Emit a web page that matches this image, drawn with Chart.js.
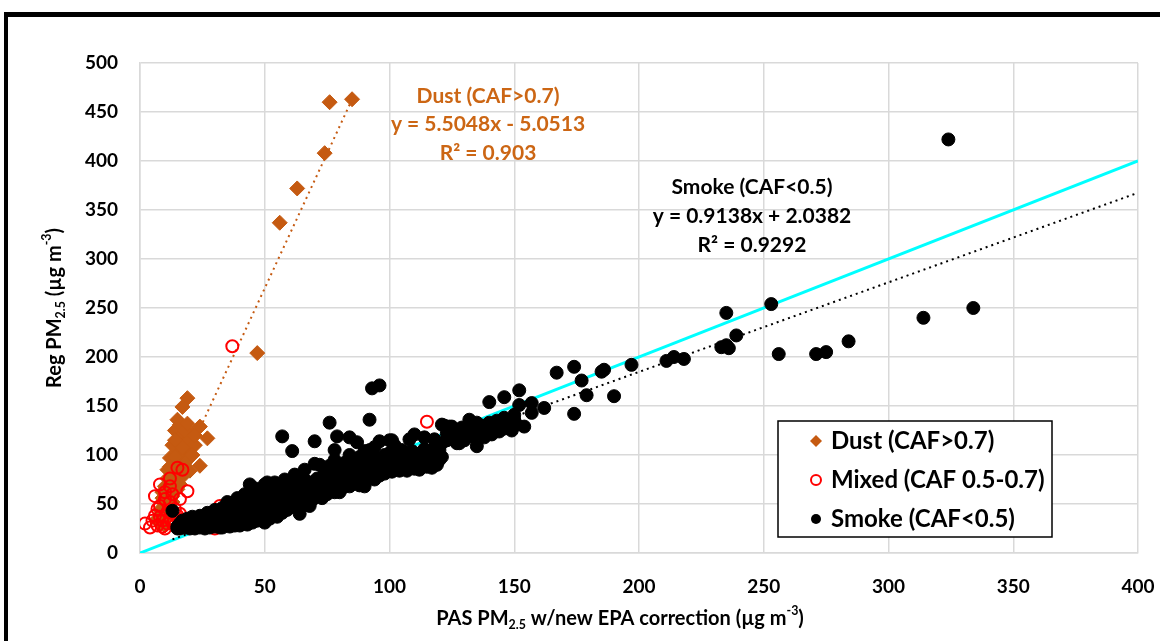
<!DOCTYPE html>
<html>
<head>
<meta charset="utf-8">
<script src="https://cdn.jsdelivr.net/npm/chart.js@4"></script>
<style>
  html, body { margin: 0; padding: 0; background: #fff; }
  #wrap { width: 1160px; height: 641px; position: relative; }
</style>
</head>
<body>
<div id="wrap"><canvas id="myChart" width="1160" height="641"></canvas></div>
<script>
// tick values
const xTicks = [0, 50, 100, 150, 200, 250, 300, 350, 400];
const yTicks = [0, 50, 100, 150, 200, 250, 300, 350, 400, 450, 500];

// Dust (CAF>0.7)
const dustX = [76, 85, 74, 63, 56, 47, 19, 17, 15, 21, 24, 27, 24, 14, 16, 18, 13, 15, 17, 12, 14, 16, 19, 20, 11, 13, 15, 12, 14, 10,
  11, 13, 9, 10, 12, 8, 9, 11, 7, 8, 10, 16, 18, 20, 22, 17, 15, 13, 19, 14, 21, 12, 16, 9, 11, 18, 20, 14, 17, 22];
const dustY = [460, 463, 408, 372, 337, 204, 158, 149, 136, 122, 129, 117, 89, 125, 118, 112, 110, 104, 100, 97, 92, 88, 95, 106, 85, 82, 78, 74, 70, 68,
  62, 58, 56, 50, 46, 44, 40, 36, 35, 30, 28, 131, 125, 115, 110, 78, 65, 52, 132, 98, 100, 88, 70, 62, 76, 92, 84, 115, 108, 120];

// Mixed (CAF 0.5-0.7)
const mixedX = [37, 115, 32, 2, 6, 8, 12, 12, 15, 17, 19, 15, 13, 10, 7, 9, 11, 8, 10, 12, 14, 6, 9, 11, 7, 13, 10, 16, 5, 18, 30, 14, 12, 8, 16, 4, 17];
const mixedY = [211, 134, 48, 30, 58, 70, 76, 68, 87, 85, 63, 38, 30, 25, 28, 33, 42, 48, 55, 35, 45, 38, 27, 30, 45, 60, 62, 40, 33, 30, 25, 28, 52, 37, 55, 26, 34];

// Smoke (CAF<0.5)
const smokeX = [13, 15, 16, 16, 17, 17, 18, 18, 19, 19, 20, 20, 20, 21, 21, 22, 22, 23, 23, 24, 24, 25, 25, 26, 26, 27, 27, 28, 28, 29,
  29, 30, 30, 30, 31, 31, 32, 32, 33, 33, 34, 34, 35, 35, 36, 36, 37, 37, 38, 38, 39, 39, 40, 40, 40, 41, 41, 42, 42, 43,
  43, 44, 44, 45, 45, 45, 44, 46, 46, 47, 47, 48, 48, 49, 49, 50, 50, 50, 51, 51, 52, 52, 53, 53, 54, 54, 55, 55, 55, 56,
  56, 57, 57, 58, 58, 59, 59, 60, 60, 61, 61, 62, 62, 63, 63, 64, 64, 65, 65, 66, 66, 67, 67, 68, 68, 69, 69, 70, 70, 70,
  71, 71, 72, 72, 73, 73, 74, 74, 75, 75, 76, 76, 77, 77, 78, 78, 79, 79, 80, 80, 81, 81, 82, 82, 83, 83, 84, 84, 85, 85,
  86, 86, 87, 87, 88, 88, 89, 89, 90, 90, 91, 91, 92, 92, 93, 93, 94, 94, 95, 95, 96, 96, 97, 97, 98, 98, 99, 99, 100, 100,
  101, 101, 102, 102, 103, 104, 104, 105, 105, 106, 106, 107, 107, 108, 108, 109, 109, 110, 110, 111, 111, 112, 112, 113, 113, 114, 114, 115, 115, 116,
  116, 117, 117, 118, 118, 119, 119, 120, 120, 121, 121,
  57, 61, 70, 76, 78, 79, 84, 87, 92, 92, 93, 96, 96, 100, 101, 110, 121, 124, 122, 125, 127, 123, 123, 128, 132,
  124, 126, 128, 129, 130, 131, 132, 133, 134, 135, 135, 136, 137, 138, 139, 140, 141, 142, 143, 144, 145, 146, 146, 147, 148,
  149, 150, 150, 151, 152, 152, 154, 157, 157, 146, 140, 162, 167, 174, 174, 177, 179, 186, 185, 190, 197, 211, 214, 218, 233,
  235, 236, 235, 239, 253, 256, 271, 275, 284, 314, 324, 334, 15, 22, 28, 19, 26, 33, 38, 24, 30, 36, 42, 47, 52,
  42, 46, 50, 54, 58, 62, 66, 72, 78, 84, 90, 64, 68, 80, 90, 35, 39, 48, 56, 60, 74, 82, 88, 94, 102, 108, 114, 118];
const smokeY = [43, 27, 25, 30, 28, 33, 26, 31, 27, 35, 25, 29, 33, 27, 37, 25, 31, 28, 34, 26, 38, 29, 33, 25, 36, 28, 41, 31, 26, 35,
  39, 27, 31, 44, 29, 36, 26, 40, 33, 46, 28, 37, 31, 42, 27, 48, 34, 39, 29, 44, 32, 50, 28, 36, 41, 46, 31, 38, 52, 29,
  43, 35, 48, 31, 40, 55, 70, 37, 45, 33, 51, 42, 58, 36, 47, 31, 40, 54, 72, 44, 35, 60, 49, 39, 56, 43, 66, 37, 50, 60,
  45, 53, 41, 63, 48, 57, 44, 52, 67, 47, 60, 55, 71, 50, 64, 58, 45, 68, 53, 62, 75, 57, 49, 66, 72, 60, 54, 70, 63, 91,
  58, 76, 67, 61, 73, 56, 65, 79, 70, 60, 75, 89, 66, 82, 72, 62, 77, 68, 85, 73, 66, 79, 76, 70, 88, 81, 73, 68, 84, 77,
  92, 71, 80, 87, 75, 69, 85, 95, 79, 72, 88, 82, 76, 98, 86, 80, 91, 75, 84, 97, 89, 79, 94, 84, 100, 81, 90, 96, 86, 102,
  93, 83, 98, 88, 95, 84, 100, 90, 105, 87, 96, 101, 84, 93, 88, 99, 104, 86, 95, 91, 101, 97, 85, 103, 89, 94, 106, 88, 99, 92,
  104, 97, 87, 108, 93, 100, 90, 95, 105, 98, 112,
  119, 104, 114, 133, 105, 119, 118, 113, 105, 136, 168, 171, 114, 115, 115, 121, 131, 129, 130, 129, 112, 122, 115, 112, 136,
  118, 125, 120, 128, 115, 124, 130, 119, 127, 109, 133, 122, 130, 118, 126, 133, 121, 129, 135, 124, 131, 138, 127, 134, 129,
  125, 136, 141, 131, 151, 166, 129, 143, 153, 159, 154, 148, 184, 142, 190, 176, 161, 187, 185, 160, 192, 196, 200, 198, 210,
  212, 209, 245, 222, 254, 203, 203, 205, 216, 240, 422, 250, 25, 26, 27, 29, 31, 26, 28, 33, 35, 30, 33, 35, 38,
  60, 66, 70, 72, 75, 80, 85, 90, 95, 100, 104, 40, 48, 62, 68, 52, 56, 64, 68, 72, 84, 92, 98, 108, 110, 116, 118, 116];

// trendline coefficients (slope, intercept) and their x range
const dustFit = [5.5048, -5.0513];
const dustFitRange = [6, 85];
const smokeFit = [0.9138, 2.0382];
const smokeFitRange = [13, 400];
const oneToOne = [0, 400];

const toPts = (xs, ys) => xs.map((x, i) => ({ x: x, y: ys[i] }));
const fitPts = (fit, r) => r.map(x => ({ x: x, y: fit[0] * x + fit[1] }));

const DUST = '#C55A11';
const FONT = 'Lato, "Open Sans", sans-serif';

function richText(ctx, parts, x, y, size) {
  let w = 0;
  parts.forEach(p => {
    ctx.font = 'bold ' + (p.s ? size * 0.62 : size) + 'px ' + FONT;
    p.w = ctx.measureText(p.t).width;
    w += p.w;
  });
  let cx = x - w / 2;
  parts.forEach(p => {
    ctx.font = 'bold ' + (p.s ? size * 0.62 : size) + 'px ' + FONT;
    let dy = p.s === 'sub' ? size * 0.3 : p.s === 'sup' ? -size * 0.38 : 0;
    ctx.fillText(p.t, cx, y + dy);
    cx += p.w;
  });
}

const extras = {
  id: 'extras',
  afterDraw(chart) {
    const ctx = chart.ctx;
    ctx.save();
    // frame
    ctx.fillStyle = '#000';
    ctx.fillRect(4, 12, 1156, 5);
    ctx.fillRect(4, 12, 4, 629);

    // axis titles
    ctx.textBaseline = 'middle';
    ctx.textAlign = 'left';
    ctx.fillStyle = '#000';
    richText(ctx, [{ t: 'PAS PM' }, { t: '2.5', s: 'sub' }, { t: ' w/new EPA correction (µg m' }, { t: '-3', s: 'sup' }, { t: ')' }], 620, 619, 20);
    ctx.save();
    ctx.translate(55, 308);
    ctx.rotate(-Math.PI / 2);
    richText(ctx, [{ t: 'Reg PM' }, { t: '2.5', s: 'sub' }, { t: ' (µg m' }, { t: '-3', s: 'sup' }, { t: ')' }], 0, 0, 20);
    ctx.restore();

    // trendline labels
    ctx.textAlign = 'center';
    ctx.font = 'bold 21px ' + FONT;
    ctx.fillStyle = '#CC6614';
    ctx.fillText('Dust (CAF>0.7)', 488, 96);
    ctx.fillText('y = 5.5048x - 5.0513', 488, 124);
    ctx.fillText('R² = 0.903', 488, 153);
    ctx.fillStyle = '#000';
    ctx.fillText('Smoke (CAF<0.5)', 752, 187);
    ctx.fillText('y = 0.9138x + 2.0382', 752, 216);
    ctx.fillText('R² = 0.9292', 752, 245);

    // legend box
    ctx.fillStyle = '#fff';
    ctx.fillRect(778, 421, 274, 116);
    ctx.strokeStyle = '#000';
    ctx.lineWidth = 1.5;
    ctx.strokeRect(778, 421, 274, 116);
    const rows = [
      { t: 'Dust (CAF>0.7)', y: 441 },
      { t: 'Mixed (CAF 0.5-0.7)', y: 480 },
      { t: 'Smoke (CAF<0.5)', y: 519 }
    ];
    // dust marker
    ctx.fillStyle = DUST;
    ctx.beginPath();
    ctx.moveTo(816, 435); ctx.lineTo(822, 441); ctx.lineTo(816, 447); ctx.lineTo(810, 441);
    ctx.closePath(); ctx.fill();
    // mixed marker
    ctx.strokeStyle = '#FF0000';
    ctx.lineWidth = 2;
    ctx.beginPath(); ctx.arc(816, 480, 5, 0, Math.PI * 2); ctx.stroke();
    // smoke marker
    ctx.fillStyle = '#000';
    ctx.beginPath(); ctx.arc(816, 519, 5, 0, Math.PI * 2); ctx.fill();
    ctx.textAlign = 'left';
    ctx.font = 'bold 24px ' + FONT;
    rows.forEach(r => ctx.fillText(r.t, 831, r.y));
    ctx.restore();
  }
};

new Chart(document.getElementById('myChart'), {
  type: 'scatter',
  data: {
    datasets: [
      {
        label: 'Smoke (CAF<0.5)',
        data: toPts(smokeX, smokeY),
        backgroundColor: '#000',
        borderColor: '#000',
        pointRadius: 6.5,
        pointHoverRadius: 6.5,
        order: 1
      },
      {
        label: 'Mixed (CAF 0.5-0.7)',
        data: toPts(mixedX, mixedY),
        backgroundColor: 'rgba(0,0,0,0)',
        borderColor: '#FF0000',
        borderWidth: 2,
        pointRadius: 6,
        order: 2
      },
      {
        label: 'Dust (CAF>0.7)',
        data: toPts(dustX, dustY),
        backgroundColor: DUST,
        borderColor: DUST,
        pointStyle: 'rectRot',
        pointRadius: 7.5,
        order: 3
      },
      {
        label: '1:1',
        data: fitPts([1, 0], oneToOne),
        showLine: true,
        borderColor: '#00FFFF',
        borderWidth: 3,
        pointRadius: 0,
        order: 6
      },
      {
        label: 'Smoke fit',
        data: fitPts(smokeFit, smokeFitRange),
        showLine: true,
        borderColor: '#000',
        borderWidth: 2,
        borderDash: [2, 4],
        pointRadius: 0,
        order: 5
      },
      {
        label: 'Dust fit',
        data: fitPts(dustFit, dustFitRange),
        showLine: true,
        borderColor: DUST,
        borderWidth: 2,
        borderDash: [2, 4],
        pointRadius: 0,
        order: 4
      }
    ]
  },
  options: {
    responsive: false,
    animation: false,
    layout: { padding: { top: 63, right: 22, left: 0, bottom: 0 } },
    plugins: {
      legend: { display: false },
      tooltip: { enabled: false }
    },
    scales: {
      x: {
        type: 'linear',
        min: 0,
        max: 400,
        afterBuildTicks: s => { s.ticks = xTicks.map(v => ({ value: v })); },
        afterFit: s => { s.height = 88; s.paddingLeft = 0; s.paddingRight = 0; },
        grid: { color: '#D9D9D9', lineWidth: 1.5, drawTicks: false },
        border: { color: '#D9D9D9', width: 1.5 },
        ticks: { color: '#000', padding: 22, font: { family: FONT, size: 19, weight: 'bold' } }
      },
      y: {
        type: 'linear',
        min: 0,
        max: 500,
        afterBuildTicks: s => { s.ticks = yTicks.map(v => ({ value: v })); },
        afterFit: s => { s.width = 140; s.paddingTop = 0; s.paddingBottom = 0; },
        grid: { color: '#D9D9D9', lineWidth: 1.5, drawTicks: false },
        border: { color: '#D9D9D9', width: 1.5 },
        ticks: { color: '#000', padding: 22, font: { family: FONT, size: 19, weight: 'bold' } }
      }
    }
  },
  plugins: [extras]
});
</script>
</body>
</html>
